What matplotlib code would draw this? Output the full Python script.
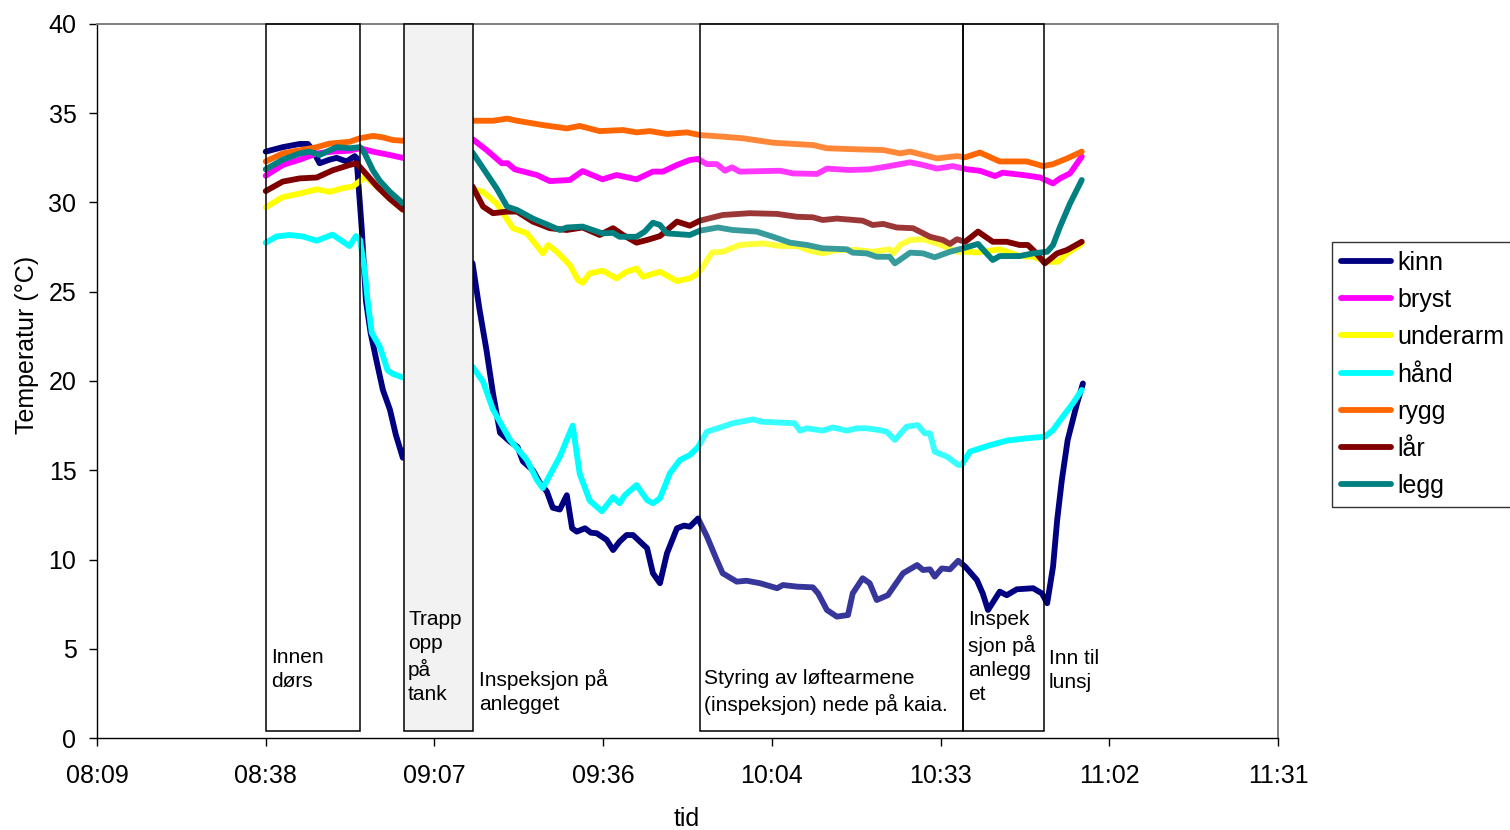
import matplotlib
matplotlib.use('Agg')
import matplotlib.pyplot as plt
from matplotlib.patches import Rectangle

plt.rcParams['font.family'] = ['Liberation Sans', 'DejaVu Sans']

# ---------------- data (time in minutes after midnight, temperature in °C) ----------------
series_names = ['kinn', 'bryst', 'underarm', 'hånd', 'rygg', 'lår', 'legg']
series_colors = ['#000080', '#FF00FF', '#FFFF00', '#00FFFF', '#FF6600', '#800000', '#008080']

kinn_t = [518.4, 521.3, 524.2, 525.6, 526.3, 527.6, 529.3, 530.5, 532.2, 533.6, 533.9, 534.8, 535.5,
          536.3, 537.4, 538.4, 539.6, 540.6, 541.8, 553.7, 554.9, 556.1, 557.2, 558.4, 560.1, 561.4,
          562.3, 564.0, 565.2, 566.4, 567.4, 568.6, 569.8, 570.7, 571.5, 572.9, 573.9, 574.9, 576.6,
          577.7, 578.8, 580.0, 581.1, 582.3, 583.5, 584.5, 585.7, 586.9, 588.6, 589.8, 590.8, 592.2,
          593.7, 595.4, 596.4, 598.8, 600.5, 602.8, 605.7, 606.7, 609.1, 611.8, 612.7, 614.2, 615.9,
          617.8, 618.6, 620.3, 621.5, 622.7, 624.6, 627.2, 629.6, 630.6, 631.8, 632.6, 633.8, 635.2,
          636.6, 637.8, 639.8, 640.8, 641.7, 643.7, 644.9, 646.6, 649.4, 650.9, 651.8, 652.8, 653.5,
          654.3, 655.3, 656.9, 657.9]
kinn_v = [32.85, 33.1, 33.28, 33.28, 33.0, 32.2, 32.4, 32.5, 32.3, 32.6, 32.5, 28.5, 24.5,
          22.7, 21.0, 19.5, 18.4, 17.0, 15.7, 26.6, 24.0, 21.7, 19.3, 17.1, 16.6, 16.3,
          15.5, 15.0, 14.3, 13.8, 12.9, 12.8, 13.6, 11.75, 11.56, 11.75, 11.5, 11.47, 11.1,
          10.53, 11.0, 11.37, 11.37, 11.0, 10.63, 9.23, 8.67, 10.35, 11.75, 11.9, 11.84, 12.3,
          11.3, 9.97, 9.23, 8.76, 8.81, 8.67, 8.39, 8.57, 8.48, 8.44, 8.1, 7.17, 6.8,
          6.89, 8.1, 8.95, 8.67, 7.73, 8.0, 9.23, 9.69, 9.41, 9.45, 9.04, 9.5, 9.45,
          9.93, 9.6, 8.85, 8.1, 7.17, 8.2, 8.0, 8.33, 8.39, 8.1, 7.55, 9.6, 12.2,
          14.45, 16.7, 18.75, 19.86]

bryst_t = [518.4, 521.3, 524.2, 527.1, 529.8, 532.7, 534.5, 536.7, 539.6, 541.8,
           553.7, 556.1, 558.7, 559.7, 560.9, 564.7, 566.9, 570.3, 572.5, 575.9,
           578.3, 581.7, 584.5, 586.2, 588.6, 590.8, 592.2, 593.7, 595.4, 596.8,
           598.0, 599.3, 606.2, 608.4, 612.5, 614.2, 618.1, 621.5, 624.9, 628.4,
           630.6, 633.0, 635.7, 638.1, 640.3, 642.9, 644.2, 647.7, 650.6, 652.8,
           654.0, 655.7, 657.7]
bryst_v = [31.5, 32.1, 32.4, 32.75, 32.85, 32.9, 33.04, 32.85, 32.66, 32.5,
           33.55, 32.94, 32.2, 32.2, 31.86, 31.54, 31.2, 31.26, 31.76, 31.3,
           31.54, 31.3, 31.73, 31.73, 32.1, 32.38, 32.44, 32.15, 32.15, 31.78,
           31.97, 31.73, 31.78, 31.63, 31.6, 31.9, 31.82, 31.86, 32.04, 32.25,
           32.1, 31.9, 32.04, 31.86, 31.78, 31.48, 31.67, 31.54, 31.4, 31.07,
           31.35, 31.63, 32.57]

underarm_t = [518.4, 521.3, 524.2, 527.1, 529.3, 531.5, 533.3, 534.5, 535.3, 537.4,
              539.6, 541.8, 553.7, 555.5, 557.8, 560.6, 563.0, 565.7, 566.6, 568.1,
              570.3, 571.7, 572.5, 573.7, 575.9, 578.3, 580.0, 581.7, 582.8, 585.7,
              588.6, 590.8, 592.2, 592.8, 594.6, 596.4, 599.3, 603.3, 606.2, 609.1,
              611.3, 613.5, 615.9, 619.3, 622.0, 624.9, 625.5, 626.7, 628.4, 630.6,
              633.0, 636.4, 638.1, 639.8, 643.7, 647.1, 649.4, 651.8, 653.6, 655.2,
              657.7]
underarm_v = [29.73, 30.3, 30.5, 30.74, 30.6, 30.8, 30.9, 31.2, 31.45, 30.9,
              30.2, 29.6, 30.74, 30.6, 29.95, 28.56, 28.27, 27.15, 27.62, 27.24,
              26.5, 25.66, 25.5, 26.03, 26.18, 25.75, 26.12, 26.3, 25.84, 26.12,
              25.6, 25.75, 26.03, 26.3, 27.2, 27.24, 27.62, 27.71, 27.56, 27.56,
              27.3, 27.15, 27.34, 27.34, 27.24, 27.38, 27.15, 27.62, 27.9, 27.94,
              27.71, 27.24, 27.24, 27.2, 27.38, 27.0, 26.96, 26.68, 26.68, 27.15,
              27.68]

hand_t = [518.4, 520.3, 522.5, 524.7, 527.1, 529.8, 532.7, 533.8, 534.5, 535.3,
          535.8, 536.5, 537.9, 539.2, 540.1, 541.8, 553.7, 555.5, 557.2, 560.1,
          563.0, 564.7, 565.7, 568.6, 570.8, 572.0, 573.7, 575.8, 577.7, 578.8,
          579.7, 581.7, 583.5, 584.5, 585.7, 587.4, 589.1, 590.8, 592.2, 593.7,
          596.4, 598.1, 601.6, 603.1, 606.2, 608.7, 609.6, 610.8, 613.5, 615.2,
          617.6, 619.3, 621.0, 623.2, 624.4, 625.8, 627.8, 629.7, 630.9, 631.8,
          632.6, 634.7, 636.6, 637.2, 638.6, 642.0, 644.9, 648.3, 651.4, 652.8,
          654.0, 656.2, 657.7]
hand_v = [27.75, 28.1, 28.18, 28.1, 27.86, 28.2, 27.56, 28.12, 27.9, 26.2,
          24.5, 22.7, 21.9, 20.6, 20.4, 20.2, 20.8, 19.96, 18.4, 16.7,
          15.57, 14.45, 14.0, 15.76, 17.5, 14.8, 13.3, 12.7, 13.5, 13.15,
          13.6, 14.17, 13.33, 13.15, 13.43, 14.83, 15.57, 15.85, 16.3, 17.16,
          17.44, 17.63, 17.85, 17.72, 17.67, 17.63, 17.22, 17.35, 17.22, 17.4,
          17.22, 17.35, 17.35, 17.25, 17.16, 16.7, 17.44, 17.53, 17.07, 17.07,
          16.04, 15.76, 15.3, 15.3, 16.04, 16.4, 16.66, 16.79, 16.88, 17.25,
          17.8, 18.75, 19.5]

rygg_t = [518.4, 521.3, 527.1, 529.3, 532.7, 534.5, 536.7, 538.4, 540.1, 541.8,
          553.7, 557.2, 559.6, 561.3, 565.7, 569.8, 572.0, 575.4, 579.4, 581.7,
          584.0, 586.9, 590.3, 592.5, 596.4, 599.8, 605.0, 611.8, 614.2, 619.3,
          623.8, 626.7, 628.4, 633.0, 636.4, 637.8, 640.3, 643.7, 648.3, 651.1,
          652.8, 655.2, 657.7]
rygg_v = [32.3, 32.75, 33.1, 33.3, 33.4, 33.6, 33.73, 33.65, 33.5, 33.46,
          34.58, 34.58, 34.7, 34.58, 34.34, 34.15, 34.29, 34.0, 34.06, 33.93,
          34.0, 33.84, 33.93, 33.78, 33.69, 33.6, 33.35, 33.22, 33.04, 32.98,
          32.94, 32.75, 32.85, 32.47, 32.6, 32.53, 32.8, 32.3, 32.3, 32.04,
          32.15, 32.47, 32.85]

lar_t = [518.4, 521.3, 524.2, 527.1, 529.8, 532.7, 533.9, 535.0, 537.4, 539.6, 541.8,
         553.7, 555.5, 557.2, 559.6, 561.3, 564.0, 566.9, 569.8, 572.5, 575.4,
         577.7, 579.4, 581.7, 583.5, 585.7, 588.6, 590.8, 592.5, 596.4, 601.0,
         605.7, 609.1, 611.8, 613.5, 615.9, 620.3, 622.0, 623.8, 626.1, 628.9,
         631.8, 634.0, 635.2, 636.4, 637.8, 640.0, 642.5, 644.9, 647.1, 648.5,
         649.7, 651.4, 653.5, 655.2, 657.7]
lar_v = [30.64, 31.17, 31.35, 31.4, 31.8, 32.1, 32.2, 31.8, 30.9, 30.2, 29.6,
         30.9, 29.77, 29.4, 29.49, 29.49, 28.93, 28.56, 28.46, 28.6, 28.18,
         28.56, 28.18, 27.75, 27.9, 28.12, 28.93, 28.7, 28.98, 29.3, 29.4,
         29.36, 29.2, 29.17, 29.02, 29.1, 28.98, 28.74, 28.8, 28.6, 28.56,
         28.08, 27.9, 27.68, 27.94, 27.8, 28.37, 27.8, 27.8, 27.62, 27.62,
         27.24, 26.59, 27.15, 27.34, 27.8]

legg_t = [518.4, 521.3, 524.2, 525.9, 527.6, 530.5, 532.7, 534.5, 535.3, 536.7, 537.9, 539.6, 541.8,
          553.7, 556.1, 557.8, 559.6, 561.3, 564.0, 566.9, 568.6, 569.8, 572.5,
          575.9, 577.7, 578.8, 581.7, 583.1, 584.5, 585.7, 586.9, 590.8, 592.5,
          595.6, 598.1, 602.2, 605.0, 607.9, 610.8, 613.5, 617.6, 618.6, 621.0,
          622.7, 624.9, 625.8, 628.4, 630.6, 632.6, 635.2, 637.4, 640.0, 641.2,
          642.5, 643.7, 647.1, 649.4, 651.8, 652.8, 654.0, 655.7, 657.7]
legg_v = [31.86, 32.4, 32.75, 32.85, 32.66, 33.1, 33.04, 33.1, 32.75, 31.8, 31.2, 30.6, 29.95,
          32.8, 31.63, 30.8, 29.77, 29.58, 29.1, 28.7, 28.46, 28.6, 28.65,
          28.27, 28.3, 28.08, 28.08, 28.37, 28.87, 28.74, 28.27, 28.18, 28.42,
          28.6, 28.46, 28.37, 28.08, 27.75, 27.62, 27.43, 27.38, 27.19, 27.15,
          26.96, 26.96, 26.59, 27.19, 27.15, 26.93, 27.24, 27.43, 27.68, 27.24,
          26.78, 27.0, 27.0, 27.15, 27.24, 27.62, 28.65, 29.95, 31.26]

series_times = [kinn_t, bryst_t, underarm_t, hand_t, rygg_t, lar_t, legg_t]
series_values = [kinn_v, bryst_v, underarm_v, hand_v, rygg_v, lar_v, legg_v]

# activity periods (start, end in minutes)
period_start = [518.4, 542.0, 592.5, 637.4]
period_end = [534.5, 553.7, 637.4, 651.2]

activity_labels = ['Innen\ndørs', 'Trapp\nopp\npå\ntank', 'Inspeksjon på\nanlegget',
                   'Styring av løftearmene\n(inspeksjon) nede på kaia.',
                   'Inspek\nsjon på\nanlegg\net', 'Inn til\nlunsj']
activity_label_t = [519.3, 542.7, 554.8, 593.2, 638.3, 652.1]
activity_label_y = [2.87, 2.13, 1.57, 1.52, 2.13, 2.8]   # baseline of last line

xtick_minutes = [489.6, 518.4, 547.2, 576.0, 604.8, 633.6, 662.4, 691.2]
xtick_labels = ['08:09', '08:38', '09:07', '09:36', '10:04', '10:33', '11:02', '11:31']
ytick_values = [0, 5, 10, 15, 20, 25, 30, 35, 40]

# ---------------- figure ----------------
fig = plt.figure(figsize=(15.1, 8.3), dpi=100)
ax = fig.add_axes([97 / 1510, 92 / 830, 1181 / 1510, 714 / 830])

LW = 4.2
lines = []
for name, col, t, v in zip(series_names, series_colors, series_times, series_values):
    ln, = ax.plot(t, v, color=col, lw=LW, label=name, zorder=2,
                  solid_capstyle='round', solid_joinstyle='round')
    lines.append(ln)

box_bottom = 0.4
box_top = 40
# box 2: opaque light gray
ax.add_patch(Rectangle((period_start[1], box_bottom), period_end[1] - period_start[1],
                       box_top - box_bottom, facecolor='#f2f2f2', edgecolor='none', zorder=3))
# box 3: translucent white veil
ax.add_patch(Rectangle((period_start[2], box_bottom), period_end[2] - period_start[2],
                       box_top - box_bottom, facecolor='white', alpha=0.22, edgecolor='none', zorder=3))
for s, e in zip(period_start, period_end):
    ax.add_patch(Rectangle((s, box_bottom), e - s, box_top - box_bottom, facecolor='none',
                           edgecolor='black', lw=1.1, zorder=4, clip_on=False))

for lab, t, y in zip(activity_labels, activity_label_t, activity_label_y):
    ax.text(t, y, lab, fontsize=15, ha='left', va='baseline', linespacing=1.33, zorder=5)

ax.set_xlim(xtick_minutes[0], xtick_minutes[-1])
ax.set_ylim(0, 40)
ax.set_xticks(xtick_minutes)
ax.set_xticklabels(xtick_labels)
ax.set_yticks(ytick_values)
ax.set_yticklabels([str(v) for v in ytick_values])
ax.tick_params(axis='x', direction='out', length=5.8, width=1, labelsize=18, pad=13)
ax.tick_params(axis='y', direction='out', length=5.8, width=1, labelsize=18, pad=9)

for side in ['top', 'right']:
    ax.spines[side].set_color('#808080')
    ax.spines[side].set_linewidth(1.4)
for side in ['left', 'bottom']:
    ax.spines[side].set_color('black')
    ax.spines[side].set_linewidth(1.0)

fig.text(27 / 1510, 1 - 344.5 / 830, 'Temperatur (°C)', rotation=90, ha='center', va='center',
         fontsize=18)
fig.text(687 / 1510, 1 - 819 / 830, 'tid', ha='center', va='center', fontsize=18)

leg = fig.legend(handles=lines, loc='upper left', bbox_to_anchor=(1332 / 1510, 1 - 242 / 830),
                 bbox_transform=fig.transFigure, fontsize=18, frameon=True, fancybox=False,
                 shadow=False, borderaxespad=0, borderpad=0.35, handlelength=2.0,
                 handletextpad=0.25, labelspacing=0.53)
leg.get_frame().set_edgecolor('black')
leg.get_frame().set_linewidth(1.0)
for h in leg.get_lines():
    h.set_linewidth(LW)
    h.set_solid_capstyle('round')

fig.savefig('out.png', dpi=100)
